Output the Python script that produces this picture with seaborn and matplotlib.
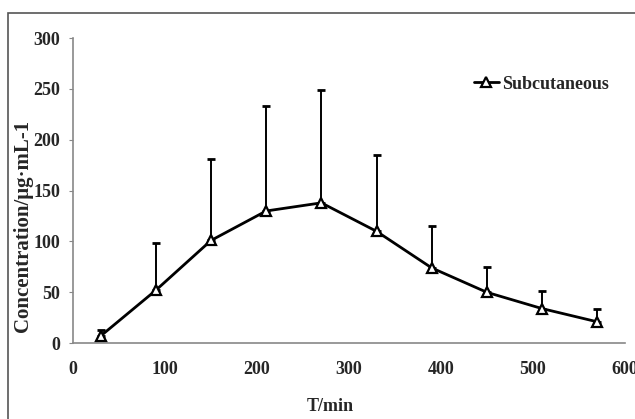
import matplotlib
matplotlib.use("Agg")
import matplotlib.pyplot as plt
import seaborn as sns
import pandas as pd
from matplotlib.patches import Rectangle

time_min = [30, 90, 150, 210, 270, 330, 390, 450, 510, 570]
concentration = [7, 52, 101, 130, 138, 110, 74, 50, 34, 21]
sd_upper = [6, 47, 80, 103, 111, 75, 41, 25, 17, 13]
series_name = "Subcutaneous"
x_ticks = [0, 100, 200, 300, 400, 500, 600]
y_ticks = [0, 50, 100, 150, 200, 250, 300]

sns.set_style("white")
plt.rcParams['font.family'] = ['Liberation Serif', 'DejaVu Serif']
plt.rcParams['font.weight'] = 'bold'

fig = plt.figure(figsize=(6.35, 4.19), dpi=100)
ax = fig.add_axes([0.115, 0.181, 0.869, 0.728])

df = pd.DataFrame({"T": time_min, "C": concentration})

ax.errorbar(time_min, concentration, yerr=[[0] * len(sd_upper), sd_upper],
            fmt='none', ecolor='black', elinewidth=1.4, capsize=3, capthick=2, zorder=2)
sns.lineplot(data=df, x="T", y="C", ax=ax, color='black', linewidth=2,
             marker='^', markersize=7.5, markerfacecolor='white',
             markeredgecolor='black', markeredgewidth=1.6, label=series_name, zorder=3)

ax.set_xlim(0, 600)
ax.set_ylim(0, 300)
ax.set_xticks(x_ticks)
ax.set_yticks(y_ticks)
ax.tick_params(axis='x', length=0, pad=12.6, labelsize=13)
ax.tick_params(axis='y', length=3, pad=6.4, labelsize=13, color='#888888', direction='out', left=True)
for lab in ax.get_xticklabels() + ax.get_yticklabels():
    lab.set_fontweight('bold')

for s in ['top', 'right']:
    ax.spines[s].set_visible(False)
for s in ['left', 'bottom']:
    ax.spines[s].set_color('#888888')
    ax.spines[s].set_linewidth(1.2)

ax.set_xlabel("T/min", fontsize=13, fontweight='bold')
ax.set_ylabel("Concentration/μg·mL-1", fontsize=15, fontweight='bold')
ax.xaxis.set_label_coords(0.467, -0.18)
ax.yaxis.set_label_coords(-0.072, 0.384)

leg = ax.legend(loc='upper right', bbox_to_anchor=(1.0, 0.93), frameon=False,
                prop={'family': 'Liberation Serif', 'weight': 'bold', 'size': 13},
                handlelength=1.4, handletextpad=0.15)

fig.patches.append(Rectangle((8 / 635, -0.1), 1.2, 0.1 + 1 - 13 / 419,
                             transform=fig.transFigure, fill=False,
                             edgecolor='#555555', linewidth=1.2))

fig.savefig("out.png", dpi=100)
